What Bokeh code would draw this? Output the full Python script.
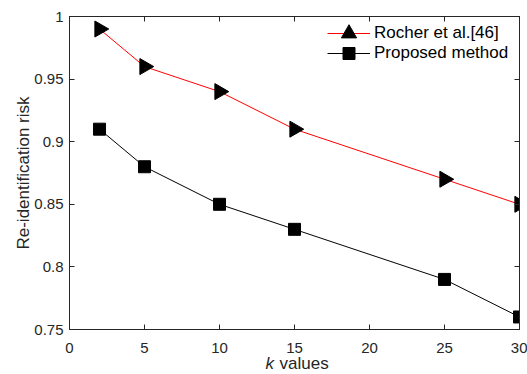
import math
from bokeh.plotting import figure
from bokeh.models import Range1d, LinearAxis, FixedTicker, Legend, LegendItem, Title
from bokeh.embed import file_html
from bokeh.resources import INLINE

k_values = [2, 5, 10, 15, 25, 30]
rocher = [0.99, 0.96, 0.94, 0.91, 0.87, 0.85]
proposed = [0.91, 0.88, 0.85, 0.83, 0.79, 0.76]
x_ticks = [0, 5, 10, 15, 20, 25, 30]
y_ticks = [0.75, 0.8, 0.85, 0.9, 0.95, 1.0]
y_tick_labels = ["0.75", "0.8", "0.85", "0.9", "0.95", "1"]
series_names = ["Rocher et al.[46]", "Proposed method"]

FONT = "Liberation Sans"
AX = "#262626"

p = figure(width=527, height=374, output_backend="svg", toolbar_location=None,
           x_range=Range1d(0, 30), y_range=Range1d(0.75, 1.0),
           min_border_left=69, min_border_right=8, min_border_top=16, min_border_bottom=45)
p.grid.visible = False
p.outline_line_color = AX
p.background_fill_color = "white"
p.border_fill_color = "white"

xb = p.below[0]
yl = p.left[0]
xb.ticker = FixedTicker(ticks=x_ticks)
yl.ticker = FixedTicker(ticks=y_ticks)
yl.major_label_overrides = {t: l for t, l in zip(y_ticks, y_tick_labels)}

top = LinearAxis(ticker=FixedTicker(ticks=x_ticks), major_label_text_font_size="0px",
                 major_label_standoff=0, major_label_overrides={t: "" for t in x_ticks})
right = LinearAxis(ticker=FixedTicker(ticks=y_ticks), major_label_text_font_size="0px",
                   major_label_standoff=0, major_label_overrides={t: "" for t in y_ticks})
p.add_layout(top, "above")
p.add_layout(right, "right")

for ax in [xb, yl, top, right]:
    ax.axis_line_color = AX
    ax.major_tick_line_color = AX
    ax.major_tick_in = 5
    ax.major_tick_out = 0
    ax.minor_tick_line_color = None
    ax.major_label_text_font = FONT
    ax.major_label_text_color = AX
    ax.axis_label_text_font = FONT
    ax.axis_label_text_color = AX
    ax.axis_label_text_font_style = "normal"

xb.major_label_text_font_size = "15px"
yl.major_label_text_font_size = "15px"
xb.major_label_standoff = 13
yl.major_label_standoff = 6
yl.axis_label = "Re-identification risk"
yl.axis_label_text_font_size = "17px"
yl.axis_label_standoff = -2

r1l = p.line(k_values, rocher, line_color="#ff0000", line_width=1)
r1m = p.scatter(k_values, rocher, marker="triangle", size=16, angle=-math.pi / 2,
                fill_color="black", line_color="black")
r2l = p.line(k_values, proposed, line_color="black", line_width=1)
r2m = p.scatter(k_values, proposed, marker="square", size=12,
                fill_color="black", line_color="black")

common = dict(label_text_font=FONT, label_text_font_size="17px", label_text_color="black",
              glyph_width=43, label_height=20, label_standoff=4, spacing=0, padding=5,
              margin=0, border_line_alpha=0, background_fill_alpha=0)
legend1 = Legend(items=[LegendItem(label=series_names[0], renderers=[r1l, r1m])],
                 location=(253, 272), glyph_height=38, **common)
legend2 = Legend(items=[LegendItem(label=series_names[1], renderers=[r2l, r2m])],
                 location=(253, 256), glyph_height=30, **common)
p.add_layout(legend1, "center")
p.add_layout(legend2, "center")

# x-axis title "k values" (italic k) as two zero-height titles hanging below the tick labels
t_k = Title(text="k", align="left", offset=196, standoff=-34, vertical_align="bottom",
            text_font=FONT, text_font_size="17px", text_font_style="italic", text_color=AX)
t_v = Title(text="values", align="left", offset=210, standoff=-34, vertical_align="bottom",
            text_font=FONT, text_font_size="17px", text_font_style="normal", text_color=AX)
p.add_layout(t_k, "below")
p.add_layout(t_v, "below")

open("out.html", "w").write(file_html(p, INLINE))
